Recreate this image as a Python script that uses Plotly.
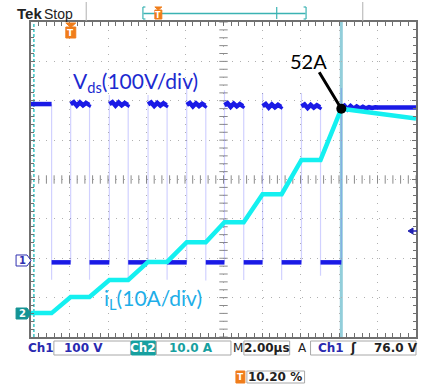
import plotly.graph_objects as go

# ---------------- data read from the scope capture ----------------
t_fall = [1.07, 3.04, 5.05, 7.07, 9.08, 11.05, 13.02, 15.04]    # us, Vds falls (switch turns on)
t_rise = [2.06, 4.07, 6.08, 8.09, 10.05, 12.03, 14.05, 16.12]   # us, Vds rises (switch turns off)
v_high = [396, 396, 396, 395, 394, 393, 391, 390, 387]          # V, off-state plateaus
v_low = [-6, -6, -6, -6, -6, -6, -6, -6]                        # V, on-state plateaus
v_over = [405, 419, 419, 449, 431, 424, 424, 437]               # V, overshoot at turn-off
v_under = [-50, -50, -48, -50, -52, -51, -51, -40]              # V, dip at turn-on
ring_dv = [5, -4, 4, -3, 3, -2, 2, -2, 1, -1, 1, 0]             # V, ringing after turn-off
ring_dt = 0.16                                                  # us between ringing samples
i_flat = [0.1, 4.2, 8.5, 13.1, 18.1, 23.2, 30.3, 39.0]          # A, inductor current plateaus
i_peak = 52.0                                                   # A
i_end = 49.5                                                    # A at end of record
t_end = 20.0                                                    # us (10 div x 2 us)

ch1_offset = 1.956   # div, Ch1 ground marker
ch2_offset = 0.597   # div, Ch2 ground marker
t_cursor1 = 0.15
t_cursor2 = t_rise[-1]

# ---------------- figure geometry ----------------
W, H = 421, 385
L, R, T, B = 31, 418, 22, 337


def px(x):
    return (x - L) / (R - L)


def py(y):
    return (B - y) / (B - T)


# ---------------- build traces ----------------
vx, vy = [], []
starts = [0.0] + t_rise
ends = t_fall + [t_end]
for k in range(len(v_high)):
    s, e = starts[k], ends[k]
    vx.append(s)
    vy.append(v_high[k])
    if k > 0:
        for j, dv in enumerate(ring_dv):
            tt = s + (j + 1) * ring_dt
            if tt >= e:
                break
            vx.append(tt)
            vy.append(v_high[k] + dv)
    vx.append(e)
    vy.append(v_high[k])
    vx.append(None)
    vy.append(None)
for k in range(len(v_low)):
    vx += [t_fall[k], t_rise[k], None]
    vy += [v_low[k], v_low[k], None]

ex, ey = [], []
for k in range(len(t_fall)):
    ex += [t_fall[k], t_fall[k], None]
    ey += [v_high[k], v_under[k], None]
    ex += [t_rise[k], t_rise[k], None]
    ey += [v_low[k], v_over[k], None]

ix, iy = [0.0], [i_flat[0]]
for k in range(len(i_flat)):
    ix.append(t_fall[k])
    iy.append(i_flat[k])
    ix.append(t_rise[k])
    iy.append(i_flat[k + 1] if k + 1 < len(i_flat) else i_peak)
ix.append(t_end)
iy.append(i_end)

fig = go.Figure()

# centre cross ticks (graticule decoration)
cx = [i * 0.4 for i in range(51)]
cy = [i * 0.2 for i in range(41)]
fig.add_trace(go.Scatter(x=cx, y=[4] * len(cx), mode="markers", yaxis="y",
                         marker=dict(symbol="line-ns", size=6, line=dict(color="#8a8a8a", width=1)),
                         hoverinfo="skip", showlegend=False))
fig.add_trace(go.Scatter(x=[10] * len(cy), y=cy, mode="markers", yaxis="y",
                         marker=dict(symbol="line-ew", size=6, line=dict(color="#8a8a8a", width=1)),
                         hoverinfo="skip", showlegend=False))

fig.add_trace(go.Scatter(x=ex, y=ey, mode="lines", yaxis="y2",
                         line=dict(color="rgba(90,90,255,0.28)", width=1.2),
                         hoverinfo="skip", showlegend=False))
fig.add_trace(go.Scatter(x=vx, y=vy, mode="lines", yaxis="y2",
                         line=dict(color="#1a1ae6", width=4.5),
                         hoverinfo="skip", showlegend=False))
fig.add_trace(go.Scatter(x=ix, y=iy, mode="lines", yaxis="y3",
                         line=dict(color="#14f0f0", width=4.5),
                         hoverinfo="skip", showlegend=False))
fig.add_trace(go.Scatter(x=[t_rise[-1]], y=[i_peak], mode="markers", yaxis="y3",
                         marker=dict(color="black", size=10),
                         hoverinfo="skip", showlegend=False))

# ---------------- axes ----------------
fig.update_layout(
    width=W, height=H,
    margin=dict(l=L, r=W - R, t=T, b=H - B, pad=0),
    paper_bgcolor="white", plot_bgcolor="white",
    showlegend=False,
    xaxis=dict(range=[0, t_end], dtick=2, tick0=0, showgrid=True, gridcolor="#b0b0b0",
               griddash="1px,6.875px", gridwidth=1, zeroline=False,
               showline=True, linecolor="#707070", linewidth=2, mirror="allticks",
               ticks="inside", ticklen=4, tickcolor="#707070", showticklabels=False,
               minor=dict(dtick=0.4, ticks="inside", ticklen=3, tickcolor="#707070", showgrid=False)),
    yaxis=dict(range=[0, 8], dtick=1, tick0=0, showgrid=True, gridcolor="#b0b0b0",
               griddash="1px,6.74px", gridwidth=1, zeroline=False,
               showline=True, linecolor="#707070", linewidth=2, mirror="allticks",
               ticks="inside", ticklen=4, tickcolor="#707070", showticklabels=False,
               minor=dict(dtick=0.2, ticks="inside", ticklen=3, tickcolor="#707070", showgrid=False)),
    yaxis2=dict(range=[-ch1_offset * 100, (8 - ch1_offset) * 100], overlaying="y", visible=False),
    yaxis3=dict(range=[-ch2_offset * 10, (8 - ch2_offset) * 10], overlaying="y", visible=False),
)

shapes = []
# cursors
shapes.append(dict(type="line", xref="x", yref="paper", x0=t_cursor2, x1=t_cursor2, y0=0, y1=1,
                   line=dict(color="rgba(110,190,205,0.75)", width=3), layer="between"))
shapes.append(dict(type="line", xref="x", yref="paper", x0=t_cursor1, x1=t_cursor1, y0=0, y1=1,
                   line=dict(color="#3cc4c4", width=1.5, dash="3px,2px"), layer="between"))


def box(x0, y0, x1, y1, fill="white", line="#a8a8a8"):
    shapes.append(dict(type="rect", xref="paper", yref="paper", x0=px(x0), x1=px(x1),
                       y0=py(y1), y1=py(y0), fillcolor=fill, line=dict(color=line, width=1)))


def pline(x0, y0, x1, y1, color, width=1):
    shapes.append(dict(type="line", xref="paper", yref="paper", x0=px(x0), x1=px(x1),
                       y0=py(y0), y1=py(y1), line=dict(color=color, width=width)))


def ppath(pts, fill, line=None):
    d = "M " + " L ".join(f"{px(a):.5f},{py(b):.5f}" for a, b in pts) + " Z"
    shapes.append(dict(type="path", xref="paper", yref="paper", path=d, fillcolor=fill,
                       line=dict(color=line or fill, width=1)))


# top bar
pline(86.5, 2, 86.5, 21, "#b0b0b0")
pline(364.5, 2, 364.5, 21, "#b0b0b0")
teal = "#3bb3b3"
pline(144, 13.5, 307, 13.5, teal, 1.5)
pline(143.5, 7, 143.5, 19, teal, 1.2)
pline(143.5, 7, 146, 7, teal, 1.2)
pline(143.5, 19, 146, 19, teal, 1.2)
pline(307.5, 7, 307.5, 19, teal, 1.2)
pline(305, 7, 307.5, 7, teal, 1.2)
pline(305, 19, 307.5, 19, teal, 1.2)
pline(278, 7, 278, 19, teal, 1.2)
orange = "#f07d1a"
ppath([(155.5, 7), (162.5, 7), (159, 10)], orange)
box(155.5, 10, 162.5, 19, fill=orange, line=orange)

# trigger T inside the plot
ppath([(66, 23), (76, 23), (71, 27.5)], orange)
box(66, 27, 76, 38, fill=orange, line=orange)

# channel ground markers
ppath([(16, 255), (27, 255), (31, 260.5), (27, 266), (16, 266)], "white", "#3030b0")
ppath([(16, 308), (27, 308), (31, 313.5), (27, 319), (16, 319)], "#149494")

# trigger level arrow
ppath([(410, 231), (415, 228), (415, 234)], "#2020b0")
pline(414, 231, 419, 231, "#2020b0", 1.5)

# bottom readout boxes
box(54, 341, 131, 355)
box(132, 341, 156, 355, fill="#17a0a0", line="#17a0a0")
box(157, 341, 232, 355)
box(245, 341, 291, 355)
box(312, 341, 418, 355)
box(237, 371, 246, 383, fill=orange, line=orange)
box(248, 371, 306, 383)

annotations = []


def ptext(x, y, text, size, color, family="DejaVu Sans", xanchor="center", bold=False):
    if bold:
        text = "<b>" + text + "</b>"
    annotations.append(dict(x=px(x), y=py(y), xref="paper", yref="paper", text=text,
                            showarrow=False, xanchor=xanchor, yanchor="middle",
                            font=dict(size=size, color=color, family=family)))


# top bar text
ptext(15, 13, "Tek", 15, "#222222", family="Liberation Sans", xanchor="left", bold=True)
ptext(42, 13.5, "Stop", 14, "#222222", family="Liberation Sans", xanchor="left")
ptext(159, 15, "T", 8, "white", bold=True)
ptext(71, 33, "T", 9, "white", bold=True)

# channel marker labels
ptext(22, 260.5, "1", 10, "#3030b0", bold=True)
ptext(22, 313.5, "2", 10, "white", bold=True)

# readouts
blue_r = "#2a2ab0"
ptext(41, 348, "Ch1", 12, blue_r, bold=True)
ptext(84, 348, "100 V", 12, blue_r, bold=True)
ptext(144, 348, "Ch2", 12, "white", bold=True)
ptext(192, 348, "10.0 A", 12, "#17a0a0", bold=True)
ptext(239, 348, "M", 12, "#222222")
ptext(268, 348, "2.00µs", 12, "#222222", bold=True)
ptext(304, 348, "A", 12, "#222222")
ptext(333, 348, "Ch1", 12, blue_r, bold=True)
ptext(355, 348, "ʃ", 12, "#222222", bold=True)
ptext(398, 348, "76.0 V", 12, "#222222", bold=True)
ptext(241.5, 377, "T", 9, "white", bold=True)
ptext(276, 377, "10.20 %", 12, "#222222", bold=True)

# figure labels
annotations.append(dict(x=px(71), y=py(82), xref="paper", yref="paper",
                        text="V<sub>ds</sub>(100V/div)", showarrow=False,
                        xanchor="left", yanchor="middle",
                        font=dict(size=21, color="#1c2ad0", family="Lato")))
annotations.append(dict(x=px(102), y=py(299), xref="paper", yref="paper",
                        text="i<sub>L</sub>(10A/div)", showarrow=False,
                        xanchor="left", yanchor="middle",
                        font=dict(size=21, color="#1eaee8", family="Lato")))
annotations.append(dict(x=px(310), y=py(61), xref="paper", yref="paper",
                        text="52A", showarrow=False, xanchor="center", yanchor="middle",
                        font=dict(size=20, color="black", family="Lato")))
annotations.append(dict(x=t_rise[-1], y=i_peak, xref="x", yref="y3", text="",
                        showarrow=True, arrowhead=0, arrowwidth=3, arrowcolor="black",
                        ax=-23, ay=-38, standoff=0))

fig.update_layout(shapes=shapes, annotations=annotations)
fig.write_html("out.html", config={"displayModeBar": False},
               post_script="document.body.style.margin='0px';")
